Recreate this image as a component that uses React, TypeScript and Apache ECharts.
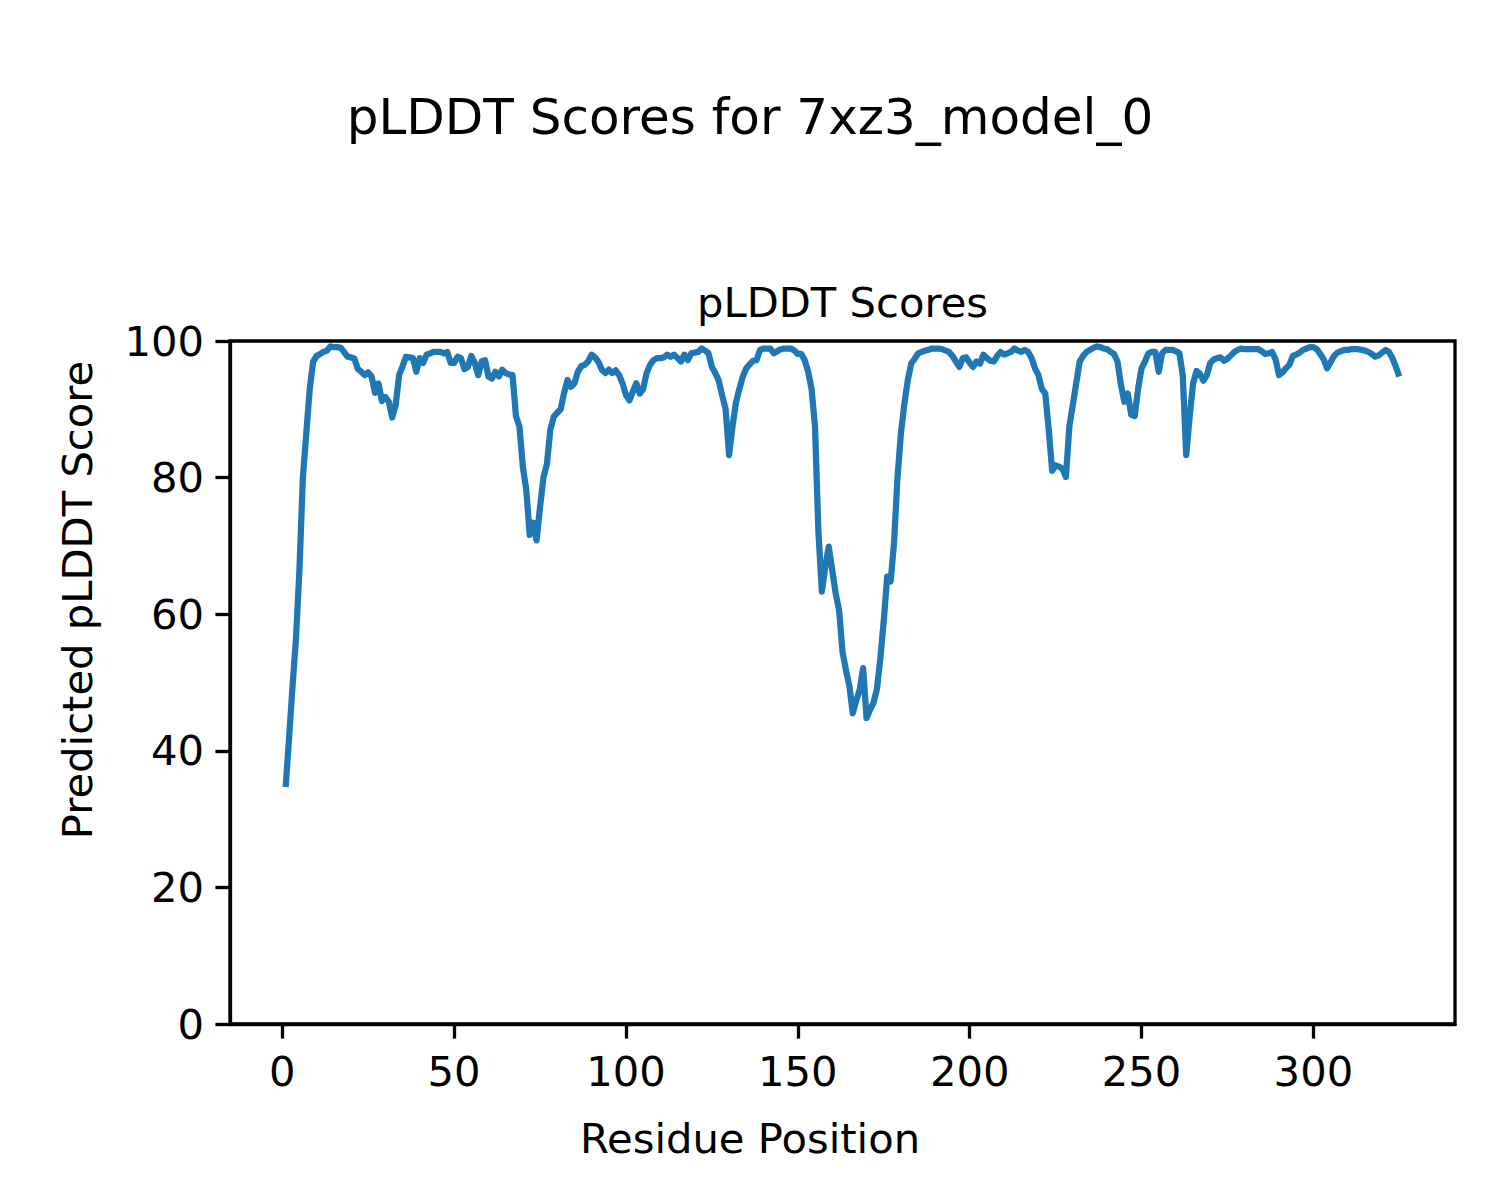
import React, { useEffect, useRef } from "react";
import * as echarts from "echarts";

// pLDDT per residue (residues 1..325)
const plddt: number[] = [
  34.7, 42, 49.5, 56.5, 66.5, 80, 86.5, 93, 97, 97.8,
  98.1, 98.4, 98.6, 99.2, 99.1, 99.1, 99.0, 98.4, 97.7, 97.6,
  97.4, 95.9, 95.5, 95.0, 95.4, 94.8, 92.4, 93.8, 91.2, 91.8,
  91.1, 88.8, 90.6, 95.0, 96.3, 97.7, 97.6, 97.5, 95.5, 97.5,
  96.8, 98.0, 98.2, 98.4, 98.4, 98.4, 98.2, 98.4, 96.8, 96.8,
  97.7, 97.5, 95.9, 96.2, 97.8, 96.8, 95.0, 97.0, 97.2, 94.8,
  94.5, 95.5, 94.8, 95.8, 95.3, 95.1, 95.0, 89.0, 87.5, 81.6,
  78.2, 71.6, 73.4, 70.8, 75.7, 80.0, 82.0, 87.0, 88.9, 89.5,
  90.0, 92.4, 94.3, 93.3, 93.8, 95.5, 96.3, 96.5, 97.0, 98.0,
  97.6, 96.9, 95.8, 95.3, 95.8, 95.3, 95.7, 95.0, 93.8, 92.1,
  91.3, 92.6, 93.8, 92.3, 93.0, 95.3, 96.5, 97.2, 97.5, 97.5,
  97.6, 98.0, 97.7, 98.0, 97.5, 97.0, 98.0, 97.2, 98.2, 98.3,
  98.4, 98.9, 98.6, 98.2, 96.2, 95.3, 94.2, 92.0, 90.0, 83.3,
  87.5, 91.0, 93.0, 94.8, 96.0, 96.6, 97.1, 97.2, 98.7, 98.9,
  98.9, 98.9, 98.2, 98.5, 98.8, 98.9, 98.9, 98.9, 98.6, 98.1,
  98.1, 97.2, 95.5, 93.0, 87.5, 72.0, 63.3, 67.0, 69.9, 66.5,
  63.1, 60.6, 54.5, 51.8, 49.5, 45.5, 47.4, 48.9, 52.1, 44.8,
  46.0, 47.0, 49.0, 53.5, 59.0, 65.5, 64.8, 70.5, 80.0, 86.5,
  90.8, 94.3, 96.7, 97.4, 98.2, 98.4, 98.6, 98.7, 98.9, 98.9,
  98.9, 98.8, 98.6, 98.4, 97.8, 97.0, 96.2, 97.5, 97.6, 96.8,
  96.2, 97.0, 96.7, 98.0, 97.5, 97.1, 97.0, 97.8, 98.4, 98.0,
  98.2, 98.4, 98.9, 98.6, 98.4, 98.7, 98.4, 97.5, 96.0, 95.0,
  93.0, 92.3, 87.0, 81.0, 81.8, 81.6, 81.3, 80.1, 87.5, 90.6,
  93.8, 97.0, 97.8, 98.4, 98.7, 99.0, 99.2, 99.1, 98.9, 98.8,
  98.4, 98.1, 97.0, 93.6, 91.1, 92.3, 89.2, 89.0, 93.0, 96.0,
  97.0, 98.2, 98.4, 98.4, 95.5, 98.2, 98.7, 98.7, 98.7, 98.5,
  98.2, 95.0, 83.3, 88.9, 93.8, 95.6, 95.2, 94.2, 95.0, 96.8,
  97.3, 97.5, 97.6, 97.1, 97.4, 97.9, 98.4, 98.7, 98.9, 98.8,
  98.8, 98.8, 98.8, 98.8, 98.5, 98.1, 98.2, 98.4, 97.3, 95.0,
  95.4, 96.0, 96.5, 97.8, 98.0, 98.3, 98.7, 98.9, 99.1, 99.1,
  98.8, 98.1, 97.3, 96.0, 96.9, 97.8, 98.3, 98.5, 98.7, 98.7,
  98.8, 98.8, 98.8, 98.7, 98.6, 98.4, 98.1, 97.7, 97.9, 98.3,
  98.7, 98.4, 97.5, 96.2, 94.8,
];

const firstResidue = 1;
const xTicks = [0, 50, 100, 150, 200, 250, 300];
const yTicks = [0, 20, 40, 60, 80, 100];

const FONT = "'DejaVu Sans', sans-serif";

export default function App() {
  const ref = useRef<HTMLDivElement>(null);
  useEffect(() => {
    if (!ref.current) return;
    const chart = echarts.init(ref.current, undefined, { renderer: "svg" });
    const data = plddt.map((v, i) => [i + firstResidue, v]);
    const fs = 41.7;
    chart.setOption({
      animation: false,
      backgroundColor: "#ffffff",
      title: {
        text: "pLDDT Scores for 7xz3_model_0",
        left: "center",
        top: 92,
        padding: 0,
        textStyle: { fontSize: 50, fontWeight: "normal", fontFamily: FONT, color: "#000" },
      },
      graphic: [
        {
          type: "text",
          x: 842.5,
          y: 302,
          style: {
            text: "pLDDT Scores",
            font: `${fs}px ${FONT}`,
            fill: "#000",
            textAlign: "center",
            textVerticalAlign: "middle",
          },
        },
        {
          type: "text",
          x: 750,
          y: 1138,
          style: {
            text: "Residue Position",
            font: `${fs}px ${FONT}`,
            fill: "#000",
            textAlign: "center",
            textVerticalAlign: "middle",
          },
        },
        {
          type: "text",
          x: 77,
          y: 600,
          rotation: Math.PI / 2,
          style: {
            text: "Predicted pLDDT Score",
            font: `${fs}px ${FONT}`,
            fill: "#000",
            textAlign: "center",
            textVerticalAlign: "middle",
          },
        },
      ],
      grid: {
        left: 230,
        top: 341,
        width: 1225,
        height: 683,
        show: true,
        borderColor: "#000",
        borderWidth: 3.3,
        containLabel: false,
      },
      xAxis: {
        type: "value",
        min: -15.2,
        max: 341.2,
        splitLine: { show: false },
        axisLine: { show: true, onZero: false, lineStyle: { color: "#000", width: 3.3 } },
        axisTick: { show: true, inside: false, length: 14.6, lineStyle: { color: "#000", width: 3.3 }, customValues: xTicks },
        axisLabel: { fontSize: fs, color: "#000", fontFamily: FONT, margin: 26, customValues: xTicks },
      },
      yAxis: {
        type: "value",
        min: 0,
        max: 100,
        interval: 20,
        splitLine: { show: false },
        axisLine: { show: true, onZero: false, lineStyle: { color: "#000", width: 3.3 } },
        axisTick: { show: true, inside: false, length: 14.6, lineStyle: { color: "#000", width: 3.3 }, customValues: yTicks },
        axisLabel: { fontSize: fs, color: "#000", fontFamily: FONT, margin: 26, customValues: yTicks },
      },
      series: [
        {
          type: "line",
          data,
          showSymbol: false,
          symbol: "none",
          clip: true,
          lineStyle: { color: "#1f77b4", width: 6.25, join: "round" },
        },
      ],
    });
    return () => chart.dispose();
  }, []);
  return (
    <div
      ref={ref}
      style={{ position: "absolute", left: 0, top: 0, width: 1500, height: 1200, background: "#fff" }}
    />
  );
}
